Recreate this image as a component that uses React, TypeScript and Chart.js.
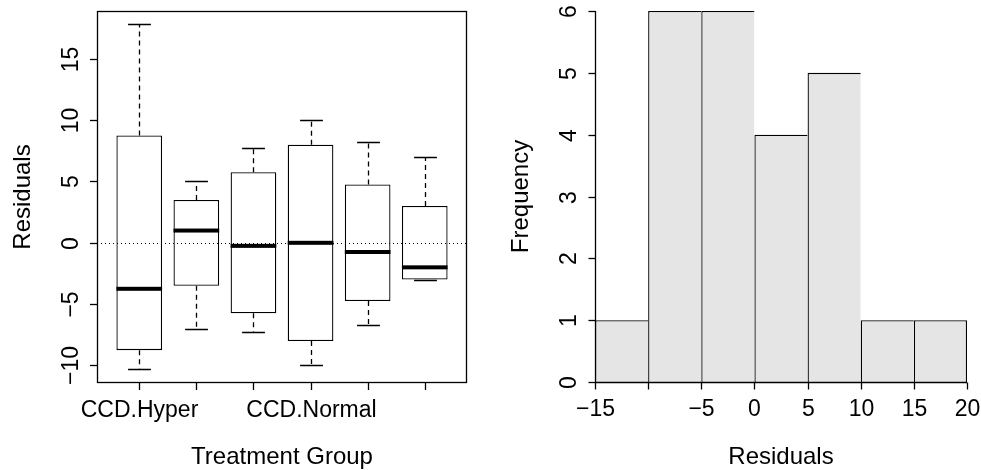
import React, { useEffect, useRef } from "react";
import { Chart, registerables } from "chart.js";

Chart.register(...registerables);

// ---------- Box plot data (left panel) ----------
const boxCategories = ["CCD.Hyper", "", "", "CCD.Normal", "", ""];
const boxLowerWhisker = [-10.25, -7.0, -7.25, -10.0, -6.7, -3.0];
const boxQ1 = [-8.75, -3.5, -5.75, -8.0, -4.75, -3.0];
const boxMedian = [-3.75, 1.0, -0.25, 0.0, -0.75, -2.0];
const boxQ3 = [8.75, 3.5, 5.75, 8.0, 4.75, 3.0];
const boxUpperWhisker = [17.8, 5.0, 7.75, 10.0, 8.25, 7.0];
const boxYTicks = [-10, -5, 0, 5, 10, 15];
const boxYMin = -11.43;
const boxYMax = 18.9;

// ---------- Histogram data (right panel) ----------
const histBreaks = [-15, -10, -5, 0, 5, 10, 15, 20];
const histCounts = [1, 6, 6, 4, 5, 1, 1];
const histXTicks = [-15, -10, -5, 0, 5, 10, 15, 20];
const histXTickLabels = ["\u221215", "", "\u22125", "0", "5", "10", "15", "20"];
const histYTicks = [0, 1, 2, 3, 4, 5, 6];

const FONT_FAMILY = '"Liberation Sans", Arial, Helvetica, sans-serif';
const TICK_FONT = `23px ${FONT_FAMILY}`;
const TITLE_FONT = `24px ${FONT_FAMILY}`;
const TICK_LEN = 7;
const LINE_W = 1.3;

function fmt(v: number): string {
  return v < 0 ? "\u2212" + Math.abs(v) : String(v);
}

function rotText(ctx: CanvasRenderingContext2D, text: string, x: number, y: number) {
  ctx.save();
  ctx.translate(x, y);
  ctx.rotate(-Math.PI / 2);
  ctx.textAlign = "center";
  ctx.textBaseline = "middle";
  ctx.fillText(text, 0, 0);
  ctx.restore();
}

const boxPlugin = {
  id: "rBoxPlot",
  afterDatasetsDraw(chart: any) {
    const { ctx, chartArea: a, scales } = chart;
    const y = scales.y;
    const meta = chart.getDatasetMeta(0);
    ctx.save();
    ctx.strokeStyle = "#000";
    ctx.fillStyle = "#000";
    ctx.lineWidth = LINE_W;
    // whiskers and caps
    boxCategories.forEach((_, i) => {
      const bar = meta.data[i];
      const cx = Math.round(bar.x) + 0.5;
      const w = bar.width;
      const yQ1 = y.getPixelForValue(boxQ1[i]);
      const yQ3 = y.getPixelForValue(boxQ3[i]);
      const yLo = y.getPixelForValue(boxLowerWhisker[i]);
      const yHi = y.getPixelForValue(boxUpperWhisker[i]);
      ctx.setLineDash([5, 4]);
      ctx.beginPath();
      ctx.moveTo(cx, yQ3);
      ctx.lineTo(cx, yHi);
      ctx.moveTo(cx, yQ1);
      ctx.lineTo(cx, yLo);
      ctx.stroke();
      ctx.setLineDash([]);
      ctx.beginPath();
      ctx.moveTo(cx - w / 4, Math.round(yHi) + 0.5);
      ctx.lineTo(cx + w / 4, Math.round(yHi) + 0.5);
      ctx.moveTo(cx - w / 4, Math.round(yLo) + 0.5);
      ctx.lineTo(cx + w / 4, Math.round(yLo) + 0.5);
      ctx.stroke();
    });
    // dotted zero reference line
    const y0 = Math.round(y.getPixelForValue(0)) + 0.5;
    ctx.lineWidth = 1;
    ctx.setLineDash([1, 3]);
    ctx.beginPath();
    ctx.moveTo(a.left, y0);
    ctx.lineTo(a.right, y0);
    ctx.stroke();
    ctx.setLineDash([]);
    // medians
    boxCategories.forEach((_, i) => {
      const bar = meta.data[i];
      const ym = y.getPixelForValue(boxMedian[i]);
      ctx.fillRect(bar.x - bar.width / 2, ym - 2, bar.width, 4);
    });
    ctx.restore();
  },
  afterDraw(chart: any) {
    const { ctx, chartArea: a, scales } = chart;
    const x = scales.x;
    const y = scales.y;
    ctx.save();
    ctx.strokeStyle = "#000";
    ctx.fillStyle = "#000";
    ctx.lineWidth = LINE_W;
    // frame
    ctx.strokeRect(a.left + 0.5, a.top + 0.5, a.right - a.left - 1, a.bottom - a.top - 1);
    // y ticks
    ctx.font = TICK_FONT;
    boxYTicks.forEach((v) => {
      const py = Math.round(y.getPixelForValue(v)) + 0.5;
      ctx.beginPath();
      ctx.moveTo(a.left, py);
      ctx.lineTo(a.left - TICK_LEN, py);
      ctx.stroke();
      rotText(ctx, fmt(v), a.left - 25, py);
    });
    // x ticks
    ctx.textAlign = "center";
    ctx.textBaseline = "alphabetic";
    boxCategories.forEach((label, i) => {
      const px = Math.round(x.getPixelForValue(i + 1)) + 0.5;
      ctx.beginPath();
      ctx.moveTo(px, a.bottom);
      ctx.lineTo(px, a.bottom + TICK_LEN);
      ctx.stroke();
      if (label) ctx.fillText(label, px, a.bottom + 33.5);
    });
    // titles
    ctx.font = TITLE_FONT;
    ctx.fillText("Treatment Group", (a.left + a.right) / 2, chart.height - 6);
    rotText(ctx, "Residuals", a.left - 74, (a.top + a.bottom) / 2);
    ctx.restore();
  },
};

const histPlugin = {
  id: "rHistAxes",
  afterDraw(chart: any) {
    const { ctx, chartArea: a, scales } = chart;
    const x = scales.x;
    const y = scales.y;
    ctx.save();
    ctx.strokeStyle = "#000";
    ctx.fillStyle = "#000";
    ctx.lineWidth = LINE_W;
    ctx.font = TICK_FONT;
    // y axis
    const ax = Math.round(a.left) + 0.5;
    ctx.beginPath();
    ctx.moveTo(ax, y.getPixelForValue(histYTicks[0]));
    ctx.lineTo(ax, y.getPixelForValue(histYTicks[histYTicks.length - 1]));
    ctx.stroke();
    histYTicks.forEach((v) => {
      const py = Math.round(y.getPixelForValue(v)) + 0.5;
      ctx.beginPath();
      ctx.moveTo(ax, py);
      ctx.lineTo(ax - TICK_LEN, py);
      ctx.stroke();
      rotText(ctx, fmt(v), a.left - 25, py);
    });
    // x axis
    const ay = Math.round(a.bottom) + 0.5;
    ctx.beginPath();
    ctx.moveTo(x.getPixelForValue(histXTicks[0]), ay);
    ctx.lineTo(x.getPixelForValue(histXTicks[histXTicks.length - 1]), ay);
    ctx.stroke();
    ctx.textAlign = "center";
    ctx.textBaseline = "alphabetic";
    histXTicks.forEach((v, i) => {
      const px = Math.round(x.getPixelForValue(v)) + 0.5;
      ctx.beginPath();
      ctx.moveTo(px, ay);
      ctx.lineTo(px, ay + TICK_LEN);
      ctx.stroke();
      if (histXTickLabels[i]) ctx.fillText(histXTickLabels[i], px, a.bottom + 33.5);
    });
    ctx.font = TITLE_FONT;
    ctx.fillText("Residuals", (a.left + a.right) / 2, chart.height - 6);
    rotText(ctx, "Frequency", a.left - 74, (a.top + a.bottom) / 2);
    ctx.restore();
  },
};

export default function App() {
  const leftRef = useRef<HTMLCanvasElement>(null);
  const rightRef = useRef<HTMLCanvasElement>(null);

  useEffect(() => {
    const left = new Chart(leftRef.current as HTMLCanvasElement, {
      type: "bar",
      data: {
        datasets: [
          {
            data: boxCategories.map((_, i) => ({ x: i + 1, y: [boxQ1[i], boxQ3[i]] })) as any,
            backgroundColor: "#ffffff",
            borderColor: "#000000",
            borderWidth: LINE_W,
            borderSkipped: false,
            barPercentage: 0.8,
            categoryPercentage: 1,
            inflateAmount: 0,
          } as any,
        ],
      },
      options: {
        responsive: false,
        animation: false,
        events: [],
        layout: { padding: { left: 97, top: 11, right: 23, bottom: 87 } },
        plugins: { legend: { display: false }, tooltip: { enabled: false } },
        scales: {
          x: {
            type: "linear",
            display: false,
            offset: false,
            min: 0.26,
            max: boxCategories.length + 0.74,
            afterBuildTicks: (scale: any) => {
              scale.ticks = boxCategories.map((_, i) => ({ value: i + 1 }));
            },
          },
          y: { type: "linear", display: false, min: boxYMin, max: boxYMax },
        },
      } as any,
      plugins: [boxPlugin],
    });

    const binCenters = histCounts.map((_, i) => (histBreaks[i] + histBreaks[i + 1]) / 2);
    const right = new Chart(rightRef.current as HTMLCanvasElement, {
      type: "bar",
      data: {
        datasets: [
          {
            data: histCounts.map((c, i) => ({ x: binCenters[i], y: c })) as any,
            backgroundColor: "#e5e5e5",
            borderColor: "#000000",
            borderWidth: (ctx: any) => ({
              top: LINE_W,
              left: LINE_W,
              bottom: 0,
              right: ctx.dataIndex === histCounts.length - 1 ? LINE_W : 0,
            }),
            borderSkipped: false,
            barPercentage: 1,
            categoryPercentage: 1,
            inflateAmount: 0,
          } as any,
        ],
      },
      options: {
        responsive: false,
        animation: false,
        events: [],
        layout: { padding: { left: 105, top: 11, right: 14, bottom: 88 } },
        plugins: { legend: { display: false }, tooltip: { enabled: false } },
        scales: {
          x: {
            type: "linear",
            display: false,
            offset: false,
            min: histBreaks[0],
            max: histBreaks[histBreaks.length - 1],
            afterBuildTicks: (scale: any) => {
              scale.ticks = histXTicks.map((v) => ({ value: v }));
            },
          },
          y: { type: "linear", display: false, min: 0, max: histYTicks[histYTicks.length - 1] },
        },
      } as any,
      plugins: [histPlugin],
    });

    return () => {
      left.destroy();
      right.destroy();
    };
  }, []);

  return (
    <div style={{ position: "fixed", left: 0, top: 0, width: 981, height: 470, background: "#ffffff" }}>
      <canvas
        ref={leftRef}
        width={490}
        height={470}
        style={{ position: "absolute", left: 0, top: 0, width: 490, height: 470 }}
      />
      <canvas
        ref={rightRef}
        width={491}
        height={470}
        style={{ position: "absolute", left: 490, top: 0, width: 491, height: 470 }}
      />
    </div>
  );
}
